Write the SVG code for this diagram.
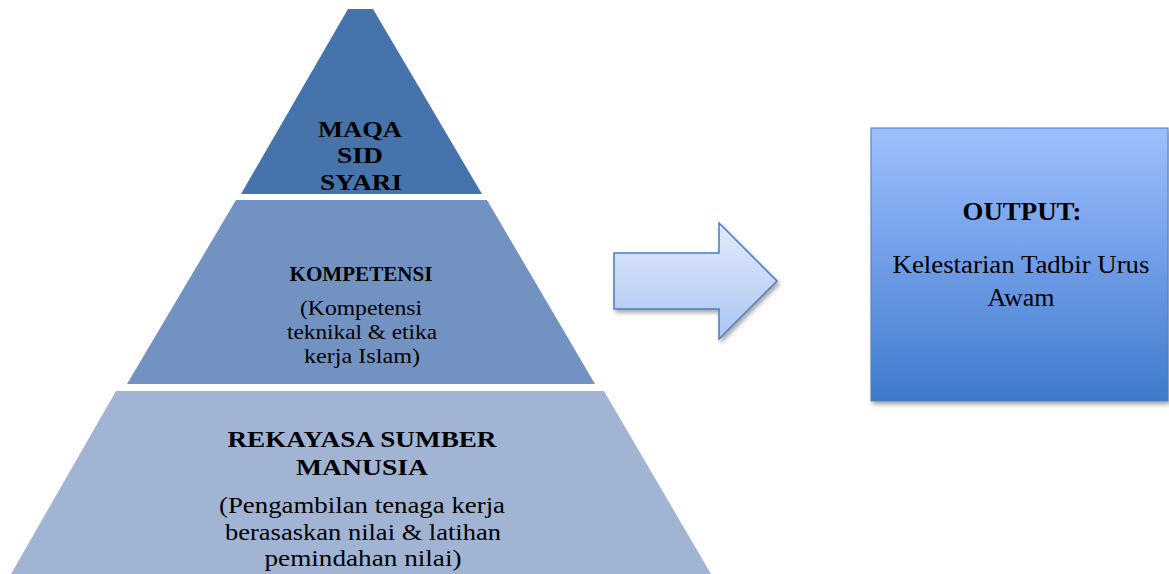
<svg xmlns="http://www.w3.org/2000/svg" width="1169" height="574" viewBox="0 0 1169 574">
  <defs>
    <linearGradient id="gOut" x1="0" y1="0" x2="0" y2="1">
      <stop offset="0" stop-color="#9CC0FD"/>
      <stop offset="0.5" stop-color="#6F9CE6"/>
      <stop offset="1" stop-color="#3E7BCB"/>
    </linearGradient>
    <linearGradient id="gArr" x1="0" y1="0" x2="0" y2="1">
      <stop offset="0" stop-color="#E2EBFB"/>
      <stop offset="1" stop-color="#A9C5F1"/>
    </linearGradient>
    <filter id="sh" x="-10%" y="-10%" width="130%" height="130%">
      <feDropShadow dx="2" dy="3" stdDeviation="2" flood-color="#000" flood-opacity="0.35"/>
    </filter>
    <style>
      text { font-family: "Liberation Serif", "Times New Roman", serif; fill: #000; text-anchor: middle; }
      .b { font-weight: bold; }
      .t1 { font-size: 24px; }
      .t2b { font-size: 21px; }
      .t2 { font-size: 21px; }
      .t3 { font-size: 24px; }
      .t4 { font-size: 26px; }
    </style>
  </defs>

  <g id="tier-top">
    <polygon points="348,9 373,9 482,194 241,194" fill="#4673AB"/>
    <text class="b t1" x="360" y="137" textLength="84" lengthAdjust="spacingAndGlyphs">MAQA</text>
    <text class="b t1" x="360" y="163" textLength="46" lengthAdjust="spacingAndGlyphs">SID</text>
    <text class="b t1" x="361" y="190" textLength="82" lengthAdjust="spacingAndGlyphs">SYARI</text>
  </g>

  <g id="tier-middle">
    <polygon points="236,200 487,200 595,384 127,384" fill="#7293C2"/>
    <text class="b t2b" x="361" y="281" textLength="143" lengthAdjust="spacingAndGlyphs">KOMPETENSI</text>
    <text class="t2" x="361" y="315" textLength="122" lengthAdjust="spacingAndGlyphs">(Kompetensi</text>
    <text class="t2" x="362" y="339" textLength="150" lengthAdjust="spacingAndGlyphs">teknikal &amp; etika</text>
    <text class="t2" x="362" y="363" textLength="116" lengthAdjust="spacingAndGlyphs">kerja Islam)</text>
  </g>

  <g id="tier-bottom">
    <polygon points="116,391 604,391 711,574 11,574" fill="#A1B4D4"/>
    <text class="b t3" x="362" y="447" textLength="269" lengthAdjust="spacingAndGlyphs">REKAYASA SUMBER</text>
    <text class="b t3" x="362" y="475" textLength="132" lengthAdjust="spacingAndGlyphs">MANUSIA</text>
    <text class="t3" x="362" y="513" textLength="286" lengthAdjust="spacingAndGlyphs">(Pengambilan tenaga kerja</text>
    <text class="t3" x="363" y="540" textLength="276" lengthAdjust="spacingAndGlyphs">berasaskan nilai &amp; latihan</text>
    <text class="t3" x="363" y="566" textLength="197" lengthAdjust="spacingAndGlyphs">pemindahan nilai)</text>
  </g>

  <g id="connectors">
    <polygon points="614,253 719,253 719,223 777,281 719,339 719,309 614,309" fill="url(#gArr)" stroke="#4A7EBB" stroke-width="1.5" stroke-linejoin="miter" filter="url(#sh)"/>
  </g>

  <g id="output">
    <rect x="871" y="128" width="297" height="273" fill="url(#gOut)" stroke="#4A7EBB" stroke-width="1" filter="url(#sh)"/>
    <text class="b t4" x="1022" y="220" textLength="119" lengthAdjust="spacingAndGlyphs">OUTPUT:</text>
    <text class="t4" x="1021" y="273" textLength="257" lengthAdjust="spacingAndGlyphs">Kelestarian Tadbir Urus</text>
    <text class="t4" x="1021" y="306">Awam</text>
  </g>
</svg>
